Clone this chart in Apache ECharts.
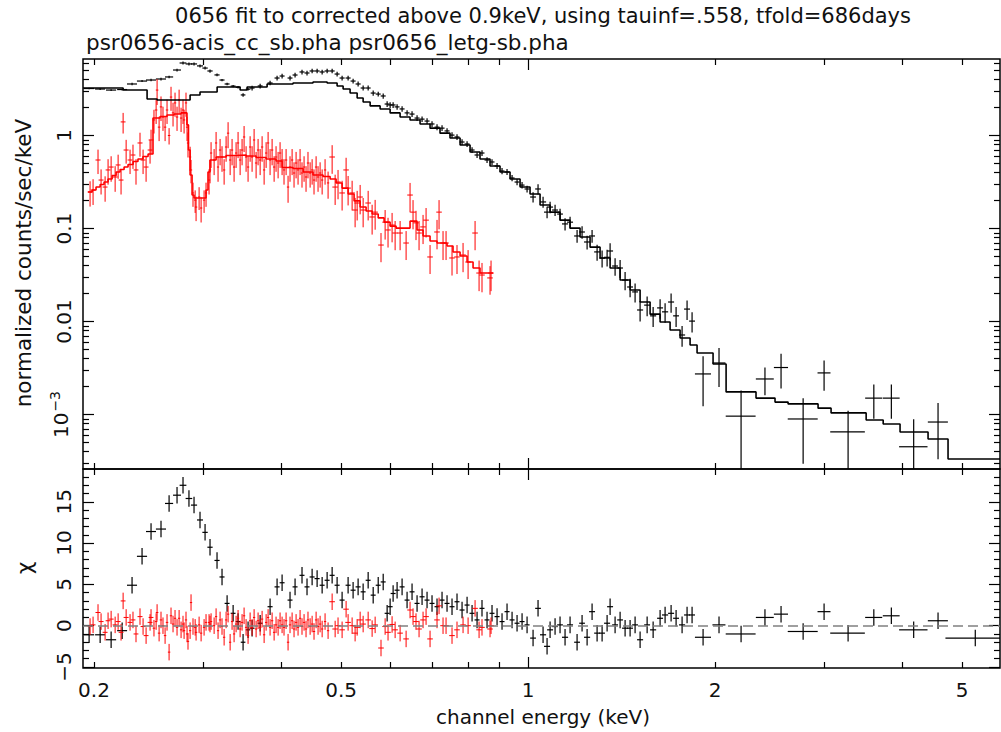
<!DOCTYPE html>
<html><head><meta charset="utf-8">
<script src="https://cdn.jsdelivr.net/npm/echarts@6/dist/echarts.min.js"></script>
<style>html,body{margin:0;padding:0;background:#fff}#c{width:1001px;height:732px}</style>
</head><body><div id="c"></div>
<script>
// ---------------- DATA ----------------
// ACIS (black): bin centre energy, half width, counts, error, chi
const acisE = [0.1964,0.2046,0.2131,0.2220,0.2303,0.2390,0.2471,0.2564,0.2642,0.2721,0.2782,0.2844,0.2898,0.2963,0.3019,0.3075,0.3156,0.3215,0.3276,0.3350,0.3412,0.3476,0.3541,
 0.3594,0.3703,0.3842,0.3943,0.4017,0.4137,0.4215,0.4325,0.4406,0.4490,0.4574,0.4660,0.4747,0.4836,0.4926,0.5018,0.5131,0.5227,0.5325,0.5425,0.5527,0.5631,0.5737,0.5844,0.5930,0.5996,
 0.6063,0.6153,0.6268,0.6385,0.6504,0.6626,0.6750,0.6876,0.7004,0.7135,0.7269,0.7405,0.7543,0.7684,0.7829,0.7976,0.8125,0.8277,0.8430,0.8589,0.8749,0.8914,0.9080,0.9250,0.9424,0.9600,0.9780,0.9963,
 1.0187,1.0377,1.0572,1.0730,1.0851,1.1053,1.1259,1.1470,1.1685,1.1993,1.2217,1.2447,1.2679,1.2917,1.3159,1.3405,1.3555,1.3808,1.4067,1.4330,1.4598,1.4871,1.5150,1.5550,1.5900,1.6316,1.6621,1.6995,1.7313,1.7702,1.8032,1.8370,
 1.9135,2.030,2.203,2.407,2.555,2.773,2.997,3.276,3.604,3.846,4.178,4.573,5.25];
const acisDE = [0.0037,0.0038,0.0040,0.0041,0.0043,0.0045,0.0046,0.0048,0.0040,0.0040,0.0035,0.0035,0.0033,0.0033,0.0030,0.0030,0.0030,0.0030,0.0030,0.0030,0.0030,0.0030,0.0030,
 0.0033,0.0034,0.0036,0.0037,0.0037,0.0038,0.0039,0.0040,0.0041,0.0042,0.0043,0.0043,0.0044,0.0045,0.0046,0.0047,0.0048,0.0049,0.0050,0.0050,0.0051,0.0052,0.0053,0.0054,0.0055,0.0056,
 0.0056,0.0057,0.0058,0.0059,0.0060,0.0062,0.0063,0.0064,0.0065,0.0066,0.0068,0.0069,0.0070,0.0071,0.0073,0.0074,0.0076,0.0077,0.0078,0.0080,0.0081,0.0083,0.0084,0.0086,0.0088,0.0089,0.0091,0.0093,
 0.011,0.011,0.012,0.012,0.012,0.012,0.012,0.013,0.013,0.013,0.013,0.014,0.014,0.014,0.014,0.015,0.015,0.015,0.015,0.016,0.016,0.016,0.017,0.017,0.018,0.018,0.019,0.019,0.019,0.020,0.020,0.020,
 0.057,0.049,0.122,0.080,0.067,0.154,0.072,0.21,0.114,0.12,0.22,0.17,0.55];
const acisY = [3.20,3.16,3.08,3.12,3.58,3.85,3.95,4.05,4.26,5.06,6.02,5.88,5.88,5.60,5.31,4.94,4.48,3.95,3.58,3.40,3.30,2.73,3.15,
 3.24,3.41,3.67,4.15,4.36,4.15,4.47,4.82,4.70,4.94,4.94,4.82,4.94,4.94,4.58,4.15,4.15,3.85,3.58,3.24,3.24,2.86,2.79,2.66,2.18,2.13,
 2.13,2.03,1.93,1.75,1.70,1.54,1.50,1.43,1.33,1.23,1.20,1.12,1.01,0.964,0.851,0.810,0.698,0.617,0.648,0.545,0.519,0.470,0.415,0.405,0.349,0.316,0.293,0.266,
 0.218,0.266,0.193,0.150,0.170,0.158,0.143,0.112,0.117,0.0831,0.0917,0.0716,0.0831,0.056,0.048,0.049,0.0573,0.0395,0.0376,0.0279,0.0235,0.0208,0.0133,0.0150,0.0115,0.0140,0.0127,0.0162,0.0115,0.00716,0.0136,0.0101,
 0.00273,0.00358,0.00096,0.00241,0.0032,0.000895,0.0028,0.00065,0.0015,0.0015,0.00045,0.00083,null];
const acisErr = [0.06,0.07,0.07,0.07,0.10,0.09,0.13,0.14,0.13,0.17,0.21,0.22,0.21,0.20,0.20,0.20,0.15,0.11,0.10,0.10,0.10,0.12,0.10,
 0.19,0.20,0.20,0.24,0.25,0.24,0.26,0.28,0.27,0.28,0.28,0.28,0.28,0.28,0.27,0.25,0.25,0.23,0.22,0.20,0.20,0.18,0.17,0.17,0.15,0.15,
 0.15,0.14,0.135,0.12,0.12,0.11,0.105,0.10,0.095,0.088,0.085,0.08,0.072,0.068,0.06,0.058,0.05,0.045,0.047,0.04,0.038,0.035,0.031,0.03,0.027,0.025,0.024,0.022,
 0.028,0.034,0.026,0.021,0.024,0.022,0.02,0.017,0.017,0.013,0.014,0.012,0.013,0.011,0.010,0.010,0.012,0.0085,0.0082,0.0062,0.0053,0.0048,0.0033,0.0036,0.0028,0.0033,0.0030,0.0038,0.0028,0.0018,0.0032,0.0025,
 0.0015,0.0016,0.00085,0.0008,0.0013,0.0006,0.001,0.00045,0.0006,0.0006,0.00044,0.0005,null];
const acisChi = [-1.1,-1.1,-1.7,-0.6,4.9,8.4,11.4,11.7,14.8,15.8,17.0,15.4,14.6,12.8,11.3,9.5,7.9,5.9,2.7,1.5,0.5,-2.0,-0.5,
 -0.3,0.3,2.3,4.7,5.2,3.1,4.7,6.1,4.7,5.9,5.7,4.9,5.5,6.1,4.9,3.1,4.9,4.3,4.7,4.1,5.5,3.7,4.9,5.3,1.5,2.3,
 3.9,4.3,4.7,3.1,4.1,2.7,3.5,3.1,2.7,2.3,3.1,2.7,2.3,2.9,1.9,2.5,1.5,0.7,2.1,0.7,1.5,1.1,0.5,1.7,0.7,0.3,0.5,0.1,
 -1.5,2.1,-1.1,-2.5,-0.5,-0.1,0.1,-1.4,0.1,-2.0,0.3,-1.4,1.7,-0.9,-0.9,0.3,2.3,0.1,0.7,-0.3,-0.3,0.1,-1.7,0.1,-0.5,0.9,1.3,1.5,0.9,0.1,1.3,1.3,
 -1.4,0.1,-1.0,1.0,1.4,-0.7,1.7,-0.9,1.0,1.2,-0.5,0.6,-1.5];

// ACIS model (histogram): bin edges and values
const acisModelEdges = [0.192,0.2228,0.2435,0.2527,0.2856,0.2963,0.3157,0.3438,0.3528,0.3800,0.4183,0.4505,0.4747,0.4926,0.5037,0.5169,0.5306,0.5425,0.5568,0.5778,
 0.5996,0.6222,0.6456,0.6700,0.6953,0.7215,0.7487,0.7772,0.8065,0.8368,0.8685,0.9013,0.9354,0.9708,1.0074,1.0455,1.0851,1.1259,1.1685,1.2126,
 1.2585,1.3061,1.3555,1.4067,1.4598,1.5150,1.5722,1.6316,1.6932,1.7571,1.8235,1.8713,1.9857,2.0840,2.3285,2.4985,2.6225,2.9309,3.0757,3.5029,
 3.7312,3.9721,4.4067,4.7457,5.7544];
const acisModel = [3.24,3.08,2.47,2.41,2.73,2.94,3.32,3.08,3.32,3.58,3.67,3.76,3.67,3.41,3.16,2.86,2.53,2.29,2.08,1.93,
 1.75,1.58,1.47,1.33,1.20,1.06,0.940,0.790,0.665,0.559,0.470,0.405,0.341,0.279,0.235,0.179,0.150,0.123,0.101,0.081,
 0.063,0.0482,0.0376,0.0279,0.0218,0.0162,0.0120,0.00988,0.0081,0.00665,0.00559,0.00458,0.00349,0.00175,0.00150,0.00136,0.00130,0.00117,0.00104,0.000873,
 0.000790,0.000648,0.000545,0.000332];

// LETG (red)
const letgE = [0.1971,0.1993,0.2030,0.2053,0.2084,0.2107,0.2131,0.2163,0.2187,0.2211,0.2228,0.2253,0.2286,0.2311,0.2337,0.2372,0.2399,0.2426,0.2462,0.2471,
 0.2498,0.2518,0.2527,0.2546,0.2564,0.2583,0.2603,0.2622,0.2642,0.2661,0.2681,0.2701,0.2721,0.2742,0.2762,0.2782,0.2793,0.2813,0.2824,0.2834,0.2856,0.2866,
 0.2887,0.2910,0.2920,0.2953,0.2975,0.3008,0.3030,0.3064,0.3075,
 0.3087,0.3122,0.3145,0.3168,0.3192,0.3215,0.3240,0.3264,0.3288,0.3313,0.3337,0.3362,0.3387,0.3412,0.3438,0.3463,0.3489,0.3515,0.3541,0.3568,0.3594,0.3621,
 0.3648,0.3675,0.3703,0.3730,0.3758,0.3786,0.3814,0.3842,0.3871,0.3900,0.3928,0.3958,0.3987,0.4017,0.4046,0.4077,0.4107,0.4137,0.4169,0.4199,0.4231,0.4262,
 0.4294,0.4325,0.4358,0.4390,0.4422,0.4457,0.4490,0.4522,0.4557,0.4590,0.4625,0.4660,0.4711,0.4764,
 0.4836,0.4890,0.4943,0.5018,0.5093,0.5131,0.5208,0.5266,0.5306,0.5365,0.5425,0.5527,0.5609,0.5672,0.5797,0.5886,0.5950,0.6040,0.6108,0.6222,
 0.6362,0.6456,0.6528,0.6600,0.6675,0.6775,0.6851,0.6953,0.7135,0.7189,0.7296,0.7378,0.7543,0.7684,0.7858,0.8006,0.8216,0.8339,0.8430,0.8685,0.8717];
const letgDE = [0.0018,0.0018,0.0019,0.0019,0.0019,0.0019,0.0020,0.0020,0.0020,0.0020,0.0020,0.0021,0.0021,0.0021,0.0021,0.0022,0.0022,0.0022,0.0022,0.0022,
 0.0012,0.0012,0.0012,0.0012,0.0012,0.0012,0.0012,0.0012,0.0012,0.0012,0.0012,0.0012,0.0012,0.0012,0.0012,0.0012,0.0012,0.0012,0.0012,0.0012,0.0012,0.0012,
 0.0013,0.0013,0.0013,0.0013,0.0013,0.0013,0.0013,0.0013,0.0013,
 0.0013,0.0013,0.0013,0.0013,0.0014,0.0014,0.0014,0.0014,0.0014,0.0014,0.0014,0.0014,0.0014,0.0014,0.0015,0.0015,0.0015,0.0015,0.0015,0.0015,0.0015,0.0015,
 0.0016,0.0016,0.0016,0.0016,0.0016,0.0016,0.0016,0.0016,0.0017,0.0017,0.0017,0.0017,0.0017,0.0017,0.0017,0.0018,0.0018,0.0018,0.0018,0.0018,0.0018,0.0018,
 0.0018,0.0019,0.0019,0.0019,0.0019,0.0019,0.0019,0.0019,0.0020,0.0020,0.0020,0.0020,0.0020,0.0020,
 0.0050,0.0050,0.0050,0.0052,0.0052,0.0053,0.0054,0.0054,0.0055,0.0055,0.0056,0.0057,0.0058,0.0058,0.0060,0.0061,0.0061,0.0062,0.0063,0.0064,
 0.0066,0.0067,0.0067,0.0068,0.0069,0.0070,0.0071,0.0072,0.0074,0.0074,0.0075,0.0076,0.0078,0.0079,0.0081,0.0083,0.0085,0.0086,0.0087,0.0090,0.0090];
const letgY = [0.247,0.259,0.545,0.332,0.279,0.426,0.458,0.358,0.482,0.332,1.40,0.698,0.545,0.617,0.426,0.831,0.545,0.458,0.698,0.895,
 1.47,1.88,3.08,1.23,2.03,1.58,1.23,1.88,1.00,2.59,1.75,2.24,1.58,2.41,1.54,1.88,1.47,2.24,1.23,0.830,0.587,0.426,
 0.241,0.202,0.170,0.218,0.166,0.202,0.241,0.332,0.426,
 0.648,0.545,0.831,0.458,0.698,0.587,0.426,0.752,1.06,0.545,0.698,0.458,0.648,0.831,0.545,0.698,0.964,0.587,0.458,0.752,0.587,0.895,
 0.506,0.698,0.545,0.752,0.426,0.648,0.831,0.545,0.698,0.458,0.587,0.506,0.648,0.545,0.426,0.545,0.279,0.458,0.545,0.395,0.506,0.426,
 0.545,0.395,0.458,0.358,0.506,0.395,0.426,0.332,0.458,0.358,0.395,0.332,0.426,0.309,
 0.587,0.279,0.316,0.241,0.426,0.272,0.241,0.158,0.188,0.218,0.158,0.188,0.133,0.150,0.0664,0.117,0.0964,0.109,0.0894,0.0894,
 0.0698,0.229,0.150,0.115,0.0894,0.104,0.123,0.0494,0.0917,0.150,0.0698,0.0698,0.0482,0.0494,0.0519,0.0436,0.0894,0.0332,0.0316,0.0294,0.0332];
const letgErr = [0.075,0.08,0.16,0.10,0.085,0.13,0.14,0.11,0.14,0.10,0.35,0.20,0.16,0.18,0.13,0.24,0.16,0.14,0.20,0.26,
 0.42,0.55,0.95,0.36,0.60,0.46,0.36,0.55,0.20,0.75,0.50,0.65,0.46,0.70,0.45,0.55,0.42,0.65,0.36,0.25,0.17,0.12,
 0.07,0.055,0.05,0.06,0.05,0.055,0.07,0.10,0.12,
 0.20,0.17,0.26,0.14,0.22,0.18,0.13,0.23,0.33,0.17,0.22,0.14,0.20,0.26,0.17,0.22,0.30,0.18,0.14,0.23,0.18,0.28,
 0.16,0.22,0.17,0.23,0.13,0.20,0.26,0.17,0.22,0.14,0.18,0.16,0.20,0.17,0.13,0.17,0.09,0.14,0.17,0.12,0.16,0.13,
 0.17,0.12,0.14,0.11,0.16,0.12,0.13,0.10,0.14,0.11,0.12,0.10,0.13,0.10,
 0.20,0.10,0.11,0.085,0.15,0.095,0.085,0.055,0.066,0.076,0.055,0.066,0.047,0.053,0.023,0.041,0.034,0.038,0.031,0.031,
 0.024,0.08,0.052,0.04,0.031,0.036,0.043,0.017,0.032,0.052,0.024,0.024,0.017,0.017,0.018,0.015,0.031,0.012,0.011,0.010,0.012];
const letgChi = [-0.1,0.1,1.6,0.5,-0.8,0.6,0.8,0.1,0.5,-0.8,3.0,1.0,0.4,0.7,-1.0,1.1,-0.1,-1.2,0.4,1.0,
 -0.3,0.5,1.6,-0.9,0.7,0.0,-1.2,0.4,-3.2,1.2,0.2,0.9,-0.2,0.9,-0.5,0.2,-0.6,0.7,-1.0,-1.9,-0.6,2.8,
 -0.1,-0.2,-0.8,0.1,-0.9,-0.2,0.4,0.4,0.2,
 0.5,0.0,1.1,-0.6,0.7,-0.1,-1.4,0.7,1.4,-2.0,0.5,-1.0,0.2,0.9,-0.4,0.4,1.2,-0.2,-1.2,0.6,-0.2,1.0,
 -0.4,0.6,-0.2,0.8,-1.1,0.4,1.0,-0.2,0.6,-0.8,0.1,-0.2,0.6,0.1,-0.2,0.6,-2.0,0.1,0.6,-0.4,0.4,-0.2,
 0.9,-0.1,0.4,-0.4,0.7,-0.1,0.2,-0.7,0.7,-0.1,0.2,-0.4,0.5,-0.6,
 2.9,-0.4,0.0,-0.5,2.0,0.4,0.0,-0.9,-0.2,0.7,0.2,0.7,-0.35,0.1,-2.7,-0.1,-0.8,0.15,-0.5,-0.9,
 -1.6,1.9,1.1,0.5,-0.4,0.7,1.1,-1.6,0.7,2.4,0.0,0.0,-1.2,-0.5,0.1,0.0,2.1,-0.5,-0.2,-0.4,0.0];

// LETG model (histogram): bin edges and values
const letgModelEdges = [0.1956,0.1986,0.2015,0.2046,0.2076,0.2107,0.2139,0.2171,0.2203,0.2236,
 0.2269,0.2312,0.2354,0.2398,0.2444,0.2489,0.2555,0.2622,0.2691,0.2762,
 0.2823,0.2839,0.2856,0.2877,0.2898,0.3030,0.3052,0.3075,0.3145,0.3264,
 0.3387,0.3516,0.3648,0.3786,0.3928,0.4017,0.4183,0.4343,0.4505,0.4676,
 0.4800,0.4908,0.5018,0.5131,0.5246,0.5365,0.5485,0.5609,0.5737,0.5864,
 0.5996,0.6131,0.6222,0.6456,0.6626,0.6775,0.6953,0.7135,0.7405,0.7571,
 0.7772,0.7976,0.8155,0.8368,0.8782];
const letgModel = [0.247,0.259,0.279,0.297,0.316,0.341,0.371,0.405,0.431,0.458,
 0.488,0.525,0.559,0.594,0.633,1.54,1.60,1.66,1.70,1.75,
 1.30,0.698,0.376,0.229,0.213,0.259,0.405,0.545,0.587,0.609,
 0.617,0.602,0.580,0.559,0.532,0.453,0.442,0.405,0.376,0.362,
 0.341,0.308,0.272,0.235,0.198,0.170,0.154,0.143,0.130,0.117,
 0.106,0.101,0.101,0.120,0.0964,0.0831,0.0734,0.0698,0.0648,0.0559,
 0.0506,0.0436,0.0376,0.0332];

// Axis ticks and labels
const xTickMajor = [1];
const xTickMinor = [0.2,0.3,0.4,0.5,0.6,0.7,0.8,0.9,2,3,4,5];
const xLabelVals = [0.2,0.5,1,2,5];
const xLabelText = ['0.2','0.5','1','2','5'];
const yTickMajor = [0.001,0.01,0.1,1];
const yTickMinor = [0.0003,0.0004,0.0005,0.0006,0.0007,0.0008,0.0009,0.002,0.003,0.004,0.005,0.006,0.007,0.008,0.009,
 0.02,0.03,0.04,0.05,0.06,0.07,0.08,0.09,0.2,0.3,0.4,0.5,0.6,0.7,0.8,0.9,2,3,4,5,6];
const yLabelVals = [0.001,0.01,0.1,1];
const yLabelText = ['{b|10}{s|\u22123}','0.01','0.1','1'];
const cTickMajor = [-5,0,5,10,15];
const cTickMinor = [-4,-3,-2,-1,1,2,3,4,6,7,8,9,11,12,13,14,16,17,18];
const cLabelVals = [-5,0,5,10,15];
const cLabelText = ['\u22125','0','5','10','15'];

// ---------------- CHART ----------------
const X_MIN = 0.192, X_MAX = 5.754;
const Y_MIN = 2.594e-4, Y_MAX = 6.646;
const C_MIN = -5.12, C_MAX = 18.97;
const FONT = 'DejaVu Sans';
const TXT = '#111';
const FS = 20;

function pick(vals, texts, v) {
  let best = 0, bd = Infinity;
  vals.forEach((x, i) => { const d = Math.abs(x - v) / (Math.abs(x) + 1e-9); if (d < bd) { bd = d; best = i; } });
  return texts[best];
}

function axis(type, grid, pos, min, max, ticks, len, label) {
  const a = {
    type: type, gridIndex: grid, position: pos, min: min, max: max,
    axisLine: { show: false, onZero: false },
    splitLine: { show: false },
    axisTick: { show: true, inside: true, length: len, customValues: ticks, lineStyle: { color: '#000', width: 1.2 } },
    axisLabel: label || { show: false }
  };
  if (type === 'log') a.logBase = 10;
  return a;
}

const xLabel = {
  show: true, customValues: xLabelVals, margin: 12, color: TXT, fontFamily: FONT, fontSize: FS,
  formatter: v => pick(xLabelVals, xLabelText, v)
};
const yLabel = {
  show: true, customValues: yLabelVals, rotate: 90, margin: 9, color: TXT, fontFamily: FONT, fontSize: FS,
  formatter: v => pick(yLabelVals, yLabelText, v),
  rich: { b: { fontSize: FS, fontFamily: FONT, color: TXT }, s: { fontSize: 14, fontFamily: FONT, color: TXT, verticalAlign: 'top', padding: [0, 0, 12, 1] } }
};
const cLabel = {
  show: true, customValues: cLabelVals, rotate: 90, margin: 9, color: TXT, fontFamily: FONT, fontSize: FS,
  formatter: v => pick(cLabelVals, cLabelText, v)
};

const xAxes = [];
[0, 1].forEach(g => {
  xAxes.push(axis('log', g, 'bottom', X_MIN, X_MAX, xTickMinor, 6, g === 1 ? xLabel : null));
  xAxes.push(axis('log', g, 'bottom', X_MIN, X_MAX, xTickMajor, 11));
  xAxes.push(axis('log', g, 'top', X_MIN, X_MAX, xTickMinor, 6));
  xAxes.push(axis('log', g, 'top', X_MIN, X_MAX, xTickMajor, 11));
});
const yAxes = [
  axis('log', 0, 'left', Y_MIN, Y_MAX, yTickMajor, 11, yLabel),
  axis('log', 0, 'left', Y_MIN, Y_MAX, yTickMinor, 6),
  axis('log', 0, 'right', Y_MIN, Y_MAX, yTickMajor, 11),
  axis('log', 0, 'right', Y_MIN, Y_MAX, yTickMinor, 6),
  axis('value', 1, 'left', C_MIN, C_MAX, cTickMajor, 11, cLabel),
  axis('value', 1, 'left', C_MIN, C_MAX, cTickMinor, 6),
  axis('value', 1, 'right', C_MIN, C_MAX, cTickMajor, 11),
  axis('value', 1, 'right', C_MIN, C_MAX, cTickMinor, 6)
];

function crossRenderer(color, width, fixedErr, isLog) {
  return function (params, api) {
    const E = api.value(0), dE = api.value(1), v = api.value(2);
    const err = fixedErr != null ? fixedErr : api.value(3);
    const cs = params.coordSys;
    const x0 = cs.x, x1 = cs.x + cs.width, y0 = cs.y, y1 = cs.y + cs.height;
    const cx = p => Math.max(x0, Math.min(x1, p));
    const cy = p => Math.max(y0, Math.min(y1, p));
    const pc = api.coord([E, v]);
    const pl = api.coord([E - dE, v]);
    const pr = api.coord([E + dE, v]);
    const pt = api.coord([E, v + err]);
    const lo = v - err;
    let pbY = y1;
    if (!isLog || lo > 0) { const pb = api.coord([E, lo]); if (isFinite(pb[1])) pbY = pb[1]; }
    const st = { stroke: color, lineWidth: width, fill: null };
    return {
      type: 'group',
      children: [
        { type: 'line', shape: { x1: cx(pl[0]), y1: pc[1], x2: cx(pr[0]), y2: pc[1] }, style: st },
        { type: 'line', shape: { x1: pc[0], y1: cy(pt[1]), x2: pc[0], y2: cy(pbY) }, style: st }
      ]
    };
  };
}

function histogram(edges, vals) {
  const out = [];
  vals.forEach((v, i) => { out.push([edges[i], v]); out.push([edges[i + 1], v]); });
  return out;
}

const acisTopData = acisE.map((e, i) => [e, acisDE[i], acisY[i], acisErr[i]]).filter(d => d[2] != null);
const letgTopData = letgE.map((e, i) => [e, letgDE[i], letgY[i], letgErr[i]]);
const acisChiData = acisE.map((e, i) => [e, acisDE[i], acisChi[i]]);
const letgChiData = letgE.map((e, i) => [e, letgDE[i], letgChi[i]]);

const txt = { fill: TXT, fontFamily: FONT, fontSize: FS };
const chart = echarts.init(document.getElementById('c'), null, { renderer: 'svg' });
chart.setOption({
  animation: false,
  backgroundColor: '#fff',
  title: [
    { text: '0656 fit to corrected above 0.9keV, using tauinf=.558, tfold=686days', left: 543, top: 5, textAlign: 'center', padding: 0,
      textStyle: { color: TXT, fontFamily: FONT, fontSize: 21, fontWeight: 'normal' } },
    { text: 'psr0656-acis_cc_sb.pha psr0656_letg-sb.pha', left: 86, top: 31, padding: 0,
      textStyle: { color: TXT, fontFamily: FONT, fontSize: 21.5, fontWeight: 'normal' } }
  ],
  graphic: [
    { type: 'text', x: 23, y: 263, rotation: Math.PI / 2, style: Object.assign({}, txt, { text: 'normalized counts/sec/keV', fontSize: 21.5, align: 'center', verticalAlign: 'middle' }) },
    { type: 'text', x: 24, y: 568, rotation: Math.PI / 2, style: Object.assign({}, txt, { text: '\u03c7', fontSize: 22, align: 'center', verticalAlign: 'middle' }) },
    { type: 'text', x: 543, y: 717, style: Object.assign({}, txt, { text: 'channel energy (keV)', align: 'center', verticalAlign: 'middle' }) }
  ],
  grid: [
    { left: 83, top: 59, width: 917, height: 410, show: true, borderColor: '#000', borderWidth: 1.5, backgroundColor: 'transparent' },
    { left: 83, top: 469, width: 917, height: 199, show: true, borderColor: '#000', borderWidth: 1.5, backgroundColor: 'transparent' }
  ],
  xAxis: xAxes,
  yAxis: yAxes,
  series: [
    { name: 'zero', type: 'line', xAxisIndex: 4, yAxisIndex: 4, data: [], z: 1,
      markLine: { silent: true, symbol: 'none', label: { show: false },
        lineStyle: { color: '#808080', width: 1.6, type: [10, 5] }, data: [{ yAxis: 0 }] } },
    { name: 'acis', type: 'custom', xAxisIndex: 0, yAxisIndex: 0, data: acisTopData, encode: { x: 0, y: 2 },
      renderItem: crossRenderer('#000', 1.2, null, true), z: 2 },
    { name: 'letg', type: 'custom', xAxisIndex: 0, yAxisIndex: 0, data: letgTopData, encode: { x: 0, y: 2 },
      renderItem: crossRenderer('#ff0000', 1, null, true), z: 3 },
    { name: 'acis model', type: 'line', xAxisIndex: 0, yAxisIndex: 0, data: histogram(acisModelEdges, acisModel),
      showSymbol: false, symbol: 'none', lineStyle: { color: '#000', width: 1.6 }, z: 4 },
    { name: 'letg model', type: 'line', xAxisIndex: 0, yAxisIndex: 0, data: histogram(letgModelEdges, letgModel),
      showSymbol: false, symbol: 'none', lineStyle: { color: '#ff0000', width: 1.6 }, z: 5 },
    { name: 'acis chi', type: 'custom', xAxisIndex: 4, yAxisIndex: 4, data: acisChiData, encode: { x: 0, y: 2 },
      renderItem: crossRenderer('#000', 1.2, 1, false), z: 2 },
    { name: 'letg chi', type: 'custom', xAxisIndex: 4, yAxisIndex: 4, data: letgChiData, encode: { x: 0, y: 2 },
      renderItem: crossRenderer('#ff0000', 1, 1, false), z: 3 }
  ]
});
</script>
</body></html>
